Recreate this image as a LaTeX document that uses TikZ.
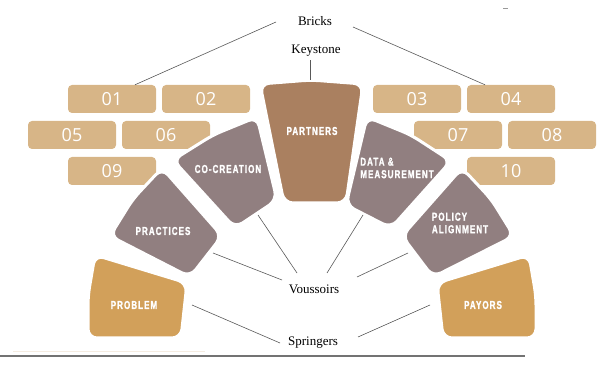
\documentclass[tikz,border=0pt]{standalone}
\usepackage{fontspec}
\setmainfont{Liberation Serif}
\newfontfamily\numfont{Open Sans}
\newfontfamily\stonefont[FakeStretch=0.7,LetterSpace=9,FakeBold=1.2]{Liberation Sans}

\definecolor{brickc}{RGB}{215,181,135}
\definecolor{voussc}{RGB}{145,127,128}
\definecolor{keyc}{RGB}{170,128,96}
\definecolor{springc}{RGB}{210,160,90}

\tikzset{
  brick/.style={fill=brickc, rounded corners=4pt, minimum width=88pt, minimum height=28pt,
    inner sep=0pt, text=white, font=\numfont\fontsize{18}{18}\selectfont},
  stone/.style={draw=white, line width=3pt, rounded corners=9pt},
  stonetext/.style={text=white, align=left, inner sep=0pt,
    font=\stonefont\bfseries\fontsize{11.5}{12.5}\selectfont},
  lbl/.style={font=\fontsize{13}{15}\selectfont},
  leader/.style={draw=black!65, line width=0.6pt}
}

\begin{document}
\begin{tikzpicture}[x=1pt,y=-1pt]
\useasboundingbox (0,0) rectangle (603,366);

% bricks
\node[brick] (b01) at (112,99) {01};
\node[brick] (b02) at (206,99) {02};
\node[brick] (b03) at (417,99) {03};
\node[brick] (b04) at (511,99) {04};
\node[brick] (b05) at (72,135) {05};
\node[brick] (b06) at (166,135) {06};
\node[brick] (b07) at (458,135) {07};
\node[brick] (b08) at (552,135) {08};
\node[brick] (b09) at (112,171) {09};
\node[brick] (b10) at (511,171) {10};

% keystone
\path[stone, fill=keyc] (260,84) -- (311,80) -- (363,84) -- (346,203) -- (284,203) -- cycle;
% voussoirs
\path[stone, fill=voussc] (173,160) -- (213,135) -- (257,117) -- (277,200) -- (235,228) -- cycle;
\path[stone, fill=voussc] (367,117) -- (411,135) -- (451,161) -- (391,228) -- (346,205) -- cycle;
\path[stone, fill=voussc] (110,236) -- (133,199) -- (162,168) -- (222,236) -- (190,277) -- cycle;
\path[stone, fill=voussc] (462,168) -- (491,199) -- (514,236) -- (433,277) -- (402,236) -- cycle;
% springers
\path[stone, fill=springc] (95,255) -- (187,283) -- (181,338) -- (88,338) -- (88,296) -- cycle;
\path[stone, fill=springc] (437,283) -- (529,255) -- (536,296) -- (536,338) -- (443,338) -- cycle;

\node[stonetext] (partners) at (312,131) {PARTNERS};
\node[stonetext] (cocre) at (228,169) {CO-CREATION};
\node[stonetext] (data) at (397,168) {DATA \&\\MEASUREMENT};
\node[stonetext] (prac) at (163,231) {PRACTICES};
\node[stonetext] (pol) at (460,223) {POLICY\\ALIGNMENT};
\node[stonetext] (prob) at (134,305) {PROBLEM};
\node[stonetext] (pay) at (483,305) {PAYORS};

% labels
\node[lbl] (bricks) at (315,21) {Bricks};
\node[lbl] (keyl) at (316,51) {Keystone};
\node[lbl] (vous) at (314,289) {Voussoirs};
\node[lbl] (spr) at (313,343) {Springers};

\coordinate (bricks-l) at (276,22);
\coordinate (bricks-r) at (353,27);
\coordinate (key-top) at (310,80);
\coordinate (prac-in) at (213,253);
\coordinate (cocre-in) at (258,215);
\coordinate (data-in) at (363,215);
\coordinate (pol-in) at (408,253);
\coordinate (vous-a) at (282,280);
\coordinate (vous-b) at (297,273);
\coordinate (vous-c) at (327,273);
\coordinate (vous-d) at (357,277);
\coordinate (prob-in) at (192,305);
\coordinate (pay-in) at (430,305);
\coordinate (spr-a) at (280,343);
\coordinate (spr-b) at (358,337);

\draw[leader] (bricks-l) -- ([xshift=23pt]b01.north);
\draw[leader] (bricks-r) -- ([xshift=-26pt]b04.north);
\draw[leader] (key-top |- keyl.south) -- (key-top);
\draw[leader] (prac-in) -- (vous-a);
\draw[leader] (cocre-in) -- (vous-b);
\draw[leader] (data-in) -- (vous-c);
\draw[leader] (pol-in) -- (vous-d);
\draw[leader] (prob-in) -- (spr-a);
\draw[leader] (pay-in) -- (spr-b);

\draw[brickc!25, line width=0.8pt] (13,351) -- (205,351);
\draw[black!55, line width=1.2pt] (0,356) -- (525,356);
\draw[black!40, line width=0.8pt] (503,8) -- (508,8);
\end{tikzpicture}
\end{document}
